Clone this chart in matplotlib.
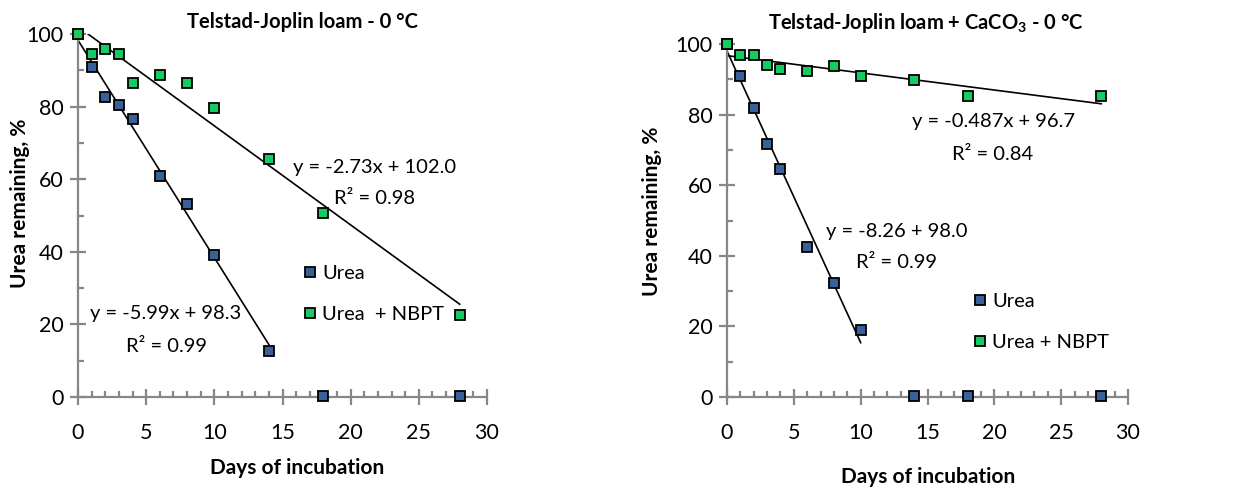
import matplotlib
matplotlib.use("Agg")
import matplotlib.pyplot as plt
from matplotlib.ticker import MultipleLocator
import numpy as np

plt.rcParams['font.family'] = ['Lato', 'DejaVu Sans']
plt.rcParams['mathtext.fontset'] = 'custom'
plt.rcParams['mathtext.rm'] = 'Lato'
plt.rcParams['mathtext.bf'] = 'Lato:bold'

# data
days = [0, 1, 2, 3, 4, 6, 8, 10, 14, 18, 28]

urea_a = [100, 91.0, 82.7, 80.4, 76.5, 61.0, 53.3, 39.1, 12.6, 0.3, 0.2]
nbpt_a = [100, 94.5, 95.8, 94.5, 86.4, 88.7, 86.6, 79.5, 65.5, 50.7, 22.5]

urea_b = [100, 91.0, 81.8, 71.7, 64.6, 42.4, 32.2, 19.1, 0.2, 0.2, 0.2]
nbpt_b = [100, 97.0, 97.0, 94.1, 92.9, 92.4, 93.7, 91.0, 89.7, 85.4, 85.4]

# trend lines: (slope, intercept, last day)
fit_urea_a = (-5.99, 98.3, 14)
fit_nbpt_a = (-2.73, 102.0, 28)
fit_urea_b = (-8.26, 98.0, 10)
fit_nbpt_b = (-0.487, 96.7, 28)

BLUE = '#3A6197'
GREEN = '#16CB62'
GRAY = '#878787'

W, H = 1239, 488
fig = plt.figure(figsize=(W / 100, H / 100), dpi=100)


def px(x, y):
    return x / W, 1 - y / H


def setup_axes(ax):
    ax.set_xlim(0, 30)
    ax.set_ylim(0, 100)
    for s in ['top', 'right']:
        ax.spines[s].set_visible(False)
    for s in ['left', 'bottom']:
        ax.spines[s].set_color(GRAY)
        ax.spines[s].set_linewidth(1.6)
    ax.xaxis.set_major_locator(MultipleLocator(5))
    ax.xaxis.set_minor_locator(MultipleLocator(1))
    ax.yaxis.set_major_locator(MultipleLocator(20))
    ax.yaxis.set_minor_locator(MultipleLocator(10))
    ax.tick_params(which='major', direction='inout', length=11, width=1.6,
                   color=GRAY, labelsize=15.5, pad=5)
    ax.tick_params(which='minor', direction='in', length=4.5, width=1.6, color=GRAY)
    ax.tick_params(axis='x', which='major', pad=13)


def fit_line(ax, fit):
    m, b, xe = fit
    xs = np.array([0, xe])
    ax.plot(xs, m * xs + b, color='black', lw=1.2, zorder=2)


def scatter(ax, y, color, label):
    ax.plot(days, y, 's', ms=7.5, mfc=color, mec='black', mew=1.3,
            label=label, zorder=3, clip_on=False)


# left panel
ax1 = fig.add_axes([78 / W, 1 - 397 / H, (487 - 78) / W, (397 - 34) / H])
setup_axes(ax1)
fit_line(ax1, fit_urea_a)
fit_line(ax1, fit_nbpt_a)
scatter(ax1, urea_a, BLUE, 'Urea')
scatter(ax1, nbpt_a, GREEN, 'Urea  + NBPT')

# right panel
ax2 = fig.add_axes([727 / W, 1 - 397 / H, (1128 - 727) / W, (397 - 44) / H])
setup_axes(ax2)
fit_line(ax2, fit_urea_b)
fit_line(ax2, fit_nbpt_b)
scatter(ax2, urea_b, BLUE, 'Urea')
scatter(ax2, nbpt_b, GREEN, 'Urea + NBPT')

# titles and axis labels
fig.text(*px(302, 22), 'Telstad-Joplin loam - 0 °C', fontsize=14.5, fontweight='bold',
         ha='center', va='center')
fig.text(*px(926, 23), r'Telstad-Joplin loam + CaCO$_{\mathbf{3}}$ - 0 °C', fontsize=14.5,
         fontweight='bold', ha='center', va='center')
fig.text(*px(297, 468), 'Days of incubation', fontsize=15, fontweight='bold',
         ha='center', va='center')
fig.text(*px(928, 477), 'Days of incubation', fontsize=15, fontweight='bold',
         ha='center', va='center')
fig.text(*px(20, 203), 'Urea remaining, %', fontsize=15, fontweight='bold',
         rotation=90, ha='center', va='center')
fig.text(*px(652, 211), 'Urea remaining, %', fontsize=15, fontweight='bold',
         rotation=90, ha='center', va='center')

# equations
eq_kw = dict(fontsize=14.5, ha='center', va='center')
fig.text(*px(375, 167), 'y = -2.73x + 102.0', **eq_kw)
fig.text(*px(375, 199), 'R² = 0.98', **eq_kw)
fig.text(*px(166, 313), 'y = -5.99x + 98.3', **eq_kw)
fig.text(*px(166, 346), 'R² = 0.99', **eq_kw)
fig.text(*px(993, 122), 'y = -0.487x + 96.7', **eq_kw)
fig.text(*px(993, 155), 'R² = 0.84', **eq_kw)
fig.text(*px(897, 232), 'y = -8.26 + 98.0', **eq_kw)
fig.text(*px(897, 263), 'R² = 0.99', **eq_kw)

# legends
leg_kw = dict(loc='upper left', frameon=False, fontsize=14.5, handletextpad=0.1,
              handlelength=1.0, labelspacing=1.2, borderpad=0, borderaxespad=0)
ax1.legend(bbox_to_anchor=px(300, 265), bbox_transform=fig.transFigure, **leg_kw)
ax2.legend(bbox_to_anchor=px(970, 293), bbox_transform=fig.transFigure, **leg_kw)

fig.savefig('out.png', dpi=100)
